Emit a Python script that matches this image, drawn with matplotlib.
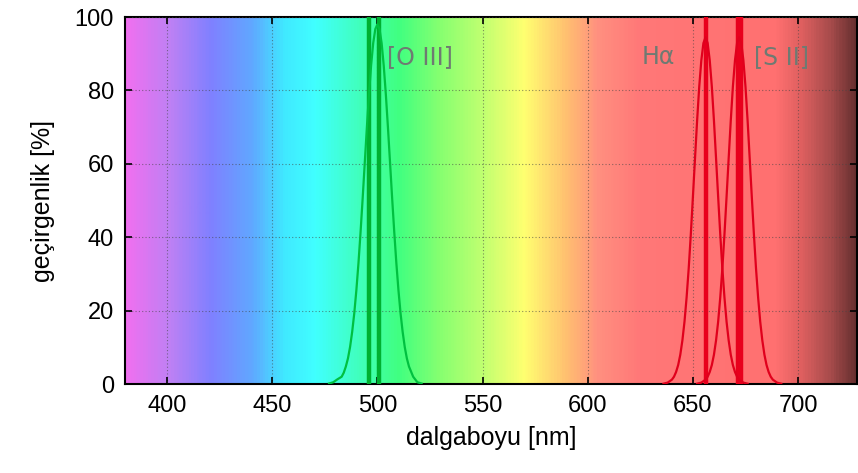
import numpy as np
import matplotlib
matplotlib.use("Agg")
import matplotlib.pyplot as plt
from matplotlib.colors import LinearSegmentedColormap

plt.rcParams['font.family'] = ['Liberation Sans', 'DejaVu Sans']

# arka plan: görünür spektrum renkleri (nm, renk)
spec_nm = [380, 400, 420, 440, 455, 470, 490, 510, 530, 550, 570, 590, 605, 625, 690, 702, 716, 728]
spec_col = ['#f070f0', '#c080f4', '#8080ff', '#60a8ff', '#40e8ff', '#40ffff', '#40ffc0',
            '#40ff80', '#88ff70', '#c0ff70', '#ffff70', '#ffc070', '#ff9080', '#ff7878',
            '#ff7070', '#e06060', '#a84c4c', '#683030']

# filtre geçirgenlikleri (resimden okunan noktalar)
oiii_nm = [477, 479, 481, 483, 484, 485, 486, 487, 488, 489, 490, 491, 492, 493, 494, 495, 496, 497, 498,
           499, 500, 501, 502, 503, 504, 505, 506, 507, 508, 509, 510, 511, 512, 513, 514, 515, 517, 519, 521]
oiii_t = [0.15, 0.5, 1.3, 2.0, 3.1, 4.8, 7.0, 10.1, 14.2, 19.3, 25.6, 33.0, 41.5, 50.7, 60.4, 70.0, 79.0,
          86.8, 92.9, 96.7, 98.0, 96.7, 92.9, 86.8, 79.0, 70.0, 60.4, 50.7, 41.5, 33.0, 25.6, 19.3, 14.2,
          10.1, 7.0, 4.8, 2.0, 0.5, 0.15]

ha_nm = [636, 638, 640, 641, 642, 643, 644, 645, 646, 647, 648, 649, 650, 651, 652, 653, 654, 655, 656,
         657, 658, 659, 660, 661, 662, 663, 664, 665, 666, 667, 668, 669, 670, 671, 672, 674, 676]
ha_t = [0.1, 0.4, 1.2, 2.0, 3.3, 5.2, 8.0, 11.9, 17.0, 23.6, 31.5, 40.8, 51.0, 61.5, 71.8, 81.0, 88.2,
        92.9, 94.5, 92.9, 88.2, 81.0, 71.8, 61.5, 51.0, 40.8, 31.5, 23.6, 17.0, 11.9, 8.0, 5.2, 3.3,
        2.0, 1.2, 0.4, 0.1]

sii_nm = [652, 654, 656, 657, 658, 659, 660, 661, 662, 663, 664, 665, 666, 667, 668, 669, 670, 671, 672,
          673, 674, 675, 676, 677, 678, 679, 680, 681, 682, 683, 684, 685, 686, 687, 688, 690, 692]
sii_t = ha_t

# emisyon çizgileri
oiii_lines = [495.9, 500.7]
red_lines = [656.3, 671.6, 673.1]

labels = ['[O III]', 'H\u03b1', '[S II]']
label_x = [504.6, 625.8, 679.0]

fig = plt.figure(figsize=(8.58, 4.73), dpi=100)
ax = fig.add_axes([0.1457, 0.188, 0.8531, 0.776])

cmap = LinearSegmentedColormap.from_list(
    'spec', [((n - spec_nm[0]) / (spec_nm[-1] - spec_nm[0]), c) for n, c in zip(spec_nm, spec_col)])
grad = np.linspace(0, 1, 700).reshape(1, -1)
ax.imshow(grad, cmap=cmap, aspect='auto', extent=[spec_nm[0], spec_nm[-1], 0, 100], zorder=0)

ax.set_xlim(spec_nm[0], spec_nm[-1])
ax.set_ylim(0, 100)

ax.grid(True, linestyle=(0, (1, 2)), color='#444444', linewidth=0.8, alpha=0.6)
ax.set_axisbelow(False)

for x in oiii_lines:
    ax.axvline(x, color='#00b030', linewidth=3.2, zorder=3)
for x in red_lines:
    ax.axvline(x, color='#e8001c', linewidth=3.2, zorder=3)

ax.plot(oiii_nm, oiii_t, color='#00c040', linewidth=1.6, zorder=4)
ax.plot(ha_nm, ha_t, color='#e0001c', linewidth=1.6, zorder=4)
ax.plot(sii_nm, sii_t, color='#e0001c', linewidth=1.6, zorder=4)

for lab, x in zip(labels, label_x):
    ax.text(x, 89, lab, color='#6f7a72', fontsize=17, family=['DejaVu Sans'],
            ha='left', va='center', zorder=5)

ax.set_xticks([400, 450, 500, 550, 600, 650, 700])
ax.set_yticks([0, 20, 40, 60, 80, 100])
ax.tick_params(direction='in', length=5, width=1.2, top=True, right=True, labelsize=17, pad=8)
for s in ax.spines.values():
    s.set_linewidth(1.5)

ax.set_xlabel('dalgaboyu [nm]', fontsize=18, labelpad=6)
ax.set_ylabel('geçirgenlik [%]', fontsize=18, labelpad=14)

fig.savefig('out.png', dpi=100)
